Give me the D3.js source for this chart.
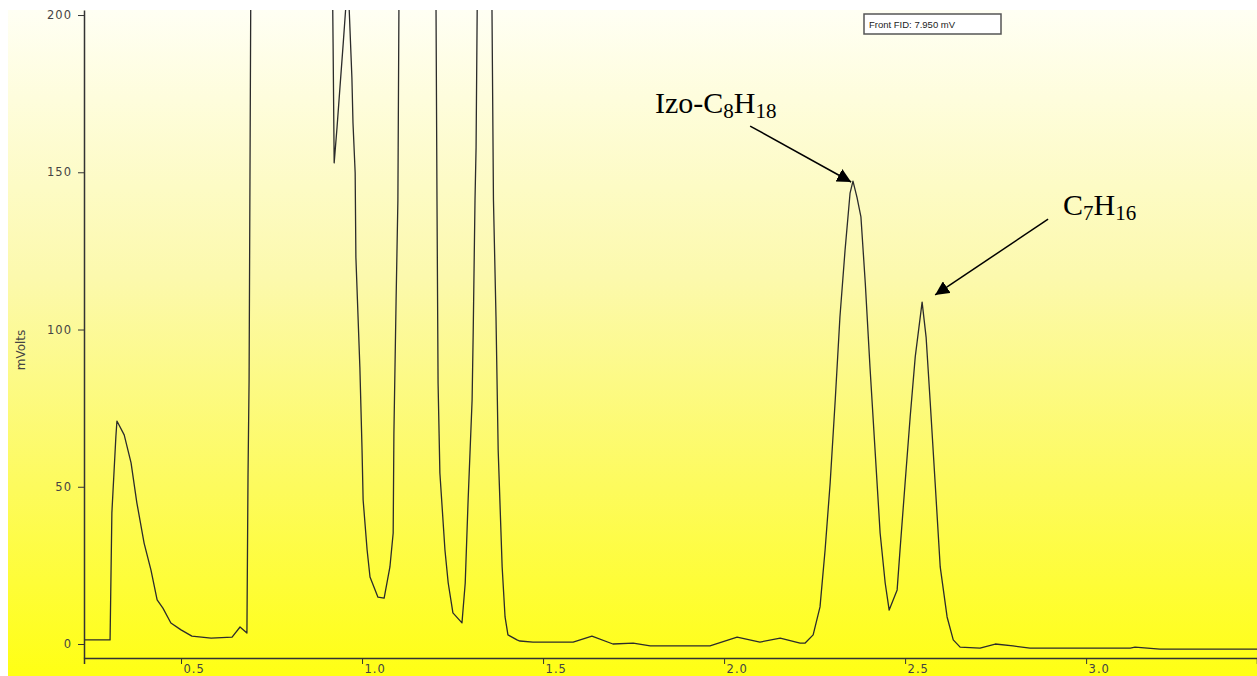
<!DOCTYPE html>
<html>
<head>
<meta charset="utf-8">
<script src="https://cdn.jsdelivr.net/npm/d3@7"></script>
<style>
  html, body { margin: 0; padding: 0; background: #fff; }
  svg { display: block; }
  .tick text { font-family: "DejaVu Sans", sans-serif; font-size: 11.5px; fill: #444; letter-spacing: 1px; }
  .axis path, .axis line { stroke: #333; }
</style>
</head>
<body>
<svg id="chart" width="1257" height="676"></svg>
<script>
'use strict';

// retention time (min) and detector signal (mV)
const times = [
  0.232, 0.304, 0.309, 0.320, 0.323, 0.343, 0.362, 0.378, 0.398, 0.417,
  0.434, 0.450, 0.472, 0.500, 0.530, 0.583, 0.641, 0.663, 0.682, 0.685,
  0.688, 0.700, 0.720, 0.850, 0.914, 0.920, 0.923, 0.931, 0.939, 0.948,
  0.961, 0.972, 0.975, 0.981, 0.983, 0.994, 1.000, 1.003, 1.014, 1.022,
  1.044, 1.061, 1.077, 1.086, 1.088, 1.094, 1.099, 1.102, 1.150, 1.204,
  1.207, 1.210, 1.215, 1.229, 1.238, 1.251, 1.276, 1.285, 1.293, 1.304,
  1.307, 1.312, 1.315, 1.320, 1.335, 1.357, 1.363, 1.370, 1.376,
  1.387, 1.395, 1.403, 1.428, 1.436, 1.472, 1.583, 1.635, 1.693, 1.749,
  1.796, 1.961, 2.036, 2.099, 2.155, 2.210, 2.224, 2.246, 2.265, 2.279,
  2.293, 2.307, 2.320, 2.334, 2.348, 2.356, 2.367, 2.378, 2.390, 2.403,
  2.417, 2.431, 2.445, 2.456, 2.478, 2.486, 2.500, 2.514, 2.528, 2.547,
  2.558, 2.569, 2.583, 2.597, 2.616, 2.633, 2.652, 2.707, 2.749, 2.798,
  2.845, 3.122, 3.135, 3.204, 3.472
];
const signal = [
  1.3, 1.3, 41.7, 65.8, 70.9, 66.5, 57.6, 44.9, 32.1, 23.5,
  14.0, 11.4, 6.7, 4.5, 2.5, 1.9, 2.2, 5.4, 3.5, 53,
  84, 400, 700, 600, 260, 191, 153, 164.4, 177, 191,
  212, 180, 165.7, 149.8, 123, 88, 61.7, 45.8, 29.9, 21.3,
  14.9, 14.6, 24.5, 35.3, 67, 109, 141, 205, 900, 210,
  141, 83, 54.4, 29.9, 19.4, 9.9, 6.7, 19.4, 45.8, 77.6,
  98.9, 141, 158, 230, 400, 230, 141, 104, 61.7,
  24.5, 8.6, 2.9, 1.3, 0.95, 0.6, 0.6, 2.5, 0, 0.3,
  -0.6, -0.6, 2.2, 0.6, 1.9, 0.3, 0.3, 2.9, 11.8, 29.9,
  51.2, 77.6, 104, 125, 143.4, 147.2, 142.1, 135.8, 114.8, 88.1,
  61.7, 35.3, 19.4, 10.8, 17.2, 29.9, 51.2, 72.2, 91.3, 108.7,
  97.6, 77.6, 51.2, 24.5, 8.6, 1.3, -1.0, -1.3, 0, -0.6,
  -1.3, -1.3, -1.0, -1.6, -1.6
];

const xTicks = [0.5, 1.0, 1.5, 2.0, 2.5, 3.0];
const yTicks = [0, 50, 100, 150, 200];
const xDomain = [0.232, 3.472];
const yDomain = [-4.45, 201.6];

// peak annotations: label parts, where the text sits, arrow start and arrow tip (data units)
const peakNames = [
  [["Izo-C", ""], ["8", "sub"], ["H", ""], ["18", "sub"]],
  [["C", ""], ["7", "sub"], ["H", ""], ["16", "sub"]]
];
const labelPos = [[1.809, 168.8], [2.936, 136.4]];
const arrowFrom = [[2.072, 164.7], [2.895, 135.1]];
const arrowTo = [[2.351, 146.9], [2.583, 111.0]];

const legendText = "Front FID: 7.950 mV";

const W = 1257, H = 676;
const plot = { left: 84, top: 10, right: 1257, bottom: 658 };

const svg = d3.select('#chart');
const defs = svg.append('defs');

const grad = defs.append('linearGradient')
  .attr('id', 'bg').attr('x1', 0).attr('y1', 0).attr('x2', 0).attr('y2', 1);
grad.append('stop').attr('offset', '0%').attr('stop-color', '#fffff4');
grad.append('stop').attr('offset', '40%').attr('stop-color', '#fcf9ad');
grad.append('stop').attr('offset', '72%').attr('stop-color', '#fdfb5c');
grad.append('stop').attr('offset', '100%').attr('stop-color', '#ffff14');

defs.append('clipPath').attr('id', 'clip')
  .append('rect')
  .attr('x', plot.left).attr('y', plot.top)
  .attr('width', plot.right - plot.left).attr('height', plot.bottom - plot.top);

defs.append('marker')
  .attr('id', 'head')
  .attr('viewBox', '0 0 10 10')
  .attr('refX', 10).attr('refY', 5)
  .attr('markerWidth', 14).attr('markerHeight', 14)
  .attr('markerUnits', 'userSpaceOnUse')
  .attr('orient', 'auto')
  .append('path')
  .attr('d', 'M0,0 L10,5 L0,10 Z')
  .attr('fill', '#000');

// background panel
svg.append('rect')
  .attr('x', 8).attr('y', plot.top)
  .attr('width', W - 8).attr('height', H - plot.top)
  .attr('fill', 'url(#bg)');

const x = d3.scaleLinear().domain(xDomain).range([plot.left, plot.right]);
const y = d3.scaleLinear().domain(yDomain).range([plot.bottom, plot.top]);

// trace
const pts = times.map((t, i) => [t, signal[i]]);
svg.append('path')
  .datum(pts)
  .attr('clip-path', 'url(#clip)')
  .attr('fill', 'none')
  .attr('stroke', '#2b2b2b')
  .attr('stroke-width', 1.3)
  .attr('stroke-linejoin', 'round')
  .attr('d', d3.line().x(d => x(d[0])).y(d => y(d[1])));

// axes
const xAxis = svg.append('g')
  .attr('class', 'axis')
  .attr('transform', `translate(0,${plot.bottom})`)
  .call(d3.axisBottom(x).tickValues(xTicks).tickFormat(d3.format('.1f'))
    .tickSize(6).tickSizeOuter(6).tickPadding(2));
xAxis.select('.domain').attr('stroke-width', 1.5);
xAxis.selectAll('.tick text')
  .attr('text-anchor', 'start')
  .attr('dx', 2)
  .attr('y', 15)
  .attr('dy', 0);

const yAxis = svg.append('g')
  .attr('class', 'axis')
  .attr('transform', `translate(${plot.left},0)`)
  .call(d3.axisLeft(y).tickValues(yTicks).tickSize(6).tickSizeOuter(0).tickPadding(6));
yAxis.select('.domain').attr('stroke-width', 1.5);

svg.append('text')
  .attr('transform', `translate(25,350) rotate(-90)`)
  .attr('text-anchor', 'middle')
  .style('font-family', '"DejaVu Sans", sans-serif')
  .style('font-size', '12px')
  .style('fill', '#444')
  .text('mVolts');

// legend box
svg.append('rect')
  .attr('x', 864).attr('y', 14).attr('width', 137).attr('height', 20)
  .attr('fill', '#fff').attr('stroke', '#555').attr('stroke-width', 1.5);
svg.append('text')
  .attr('x', 869).attr('y', 28)
  .style('font-family', '"Liberation Sans", Arial, sans-serif')
  .style('font-size', '9.5px')
  .style('fill', '#222')
  .text(legendText);

// annotations
peakNames.forEach((parts, i) => {
  const t = svg.append('text')
    .attr('x', x(labelPos[i][0])).attr('y', y(labelPos[i][1]))
    .style('font-family', '"Liberation Serif", "Times New Roman", serif')
    .style('font-size', '30px')
    .style('fill', '#000');
  let shifted = false;
  parts.forEach(p => {
    const span = t.append('tspan').text(p[0]);
    if (p[1] === 'sub') {
      span.style('font-size', '21px').attr('dy', shifted ? 0 : 5);
      shifted = true;
    } else {
      if (shifted) span.attr('dy', -5);
      shifted = false;
    }
  });

  svg.append('line')
    .attr('x1', x(arrowFrom[i][0])).attr('y1', y(arrowFrom[i][1]))
    .attr('x2', x(arrowTo[i][0])).attr('y2', y(arrowTo[i][1]))
    .attr('stroke', '#000').attr('stroke-width', 1.5)
    .attr('marker-end', 'url(#head)');
});
</script>
</body>
</html>
